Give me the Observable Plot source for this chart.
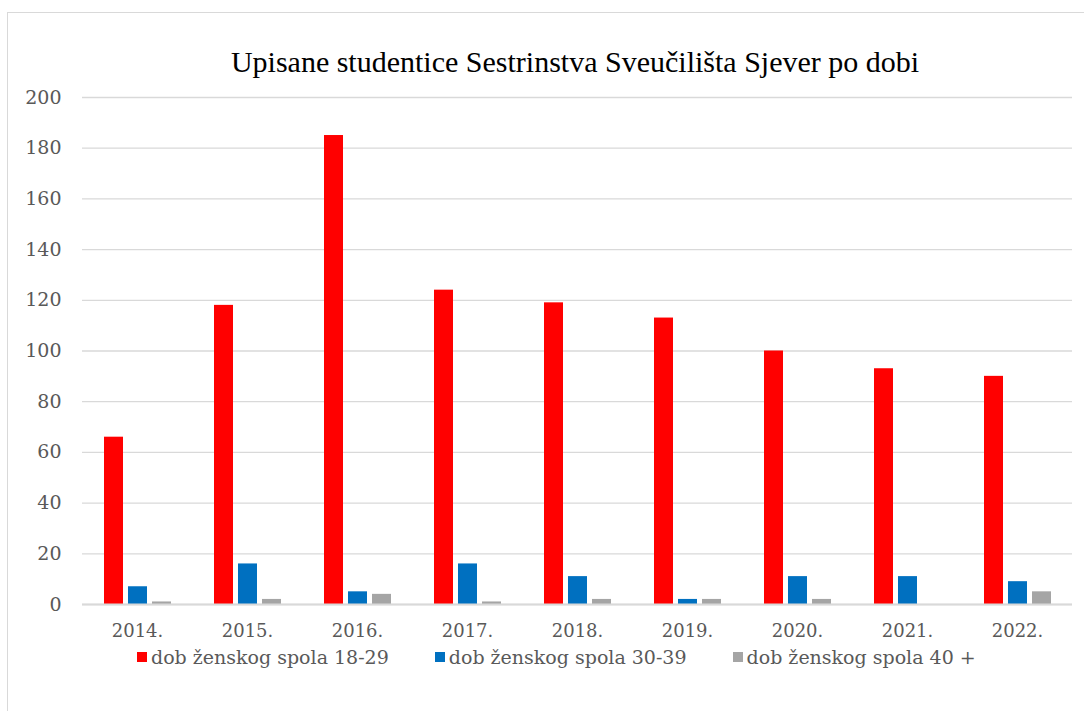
<!DOCTYPE html>
<html>
<head>
<meta charset="utf-8">
<script src="https://cdn.jsdelivr.net/npm/d3@7"></script>
<script src="https://cdn.jsdelivr.net/npm/@observablehq/plot@0.6"></script>
<style>
  body { margin: 0; background: #fff; width: 1084px; height: 711px; overflow: hidden; position: relative; font-family: "DejaVu Serif", serif; }
  #frame { position: absolute; left: 7px; top: 12px; width: 1090px; height: 720px; border: 1px solid #d9d9d9; box-sizing: border-box; }
  #title { position: absolute; left: 80px; width: 990px; top: 45px; text-align: center; font-family: "Liberation Serif", serif; font-size: 30px; line-height: 34px; color: #000; }
  #chart { position: absolute; left: 0; top: 80px; }
  #legend { position: absolute; top: 645px; left: 137px; display: flex; justify-content: flex-start; gap: 46px; font-family: "DejaVu Serif", serif; font-size: 19px; line-height: 24px; color: #595959; }
  .item { display: flex; align-items: center; }
  .sw { width: 10px; height: 10px; margin-right: 4px; }
</style>
</head>
<body>
<div id="frame"></div>
<div id="title">Upisane studentice Sestrinstva Sveučilišta Sjever po dobi</div>
<div id="chart"></div>
<div id="legend"></div>
<script>
const years = ["2014.", "2015.", "2016.", "2017.", "2018.", "2019.", "2020.", "2021.", "2022."];
const seriesNames = ["dob ženskog spola 18-29", "dob ženskog spola 30-39", "dob ženskog spola 40 +"];
const age18_29 = [66, 118, 185, 124, 119, 113, 100, 93, 90];
const age30_39 = [7, 16, 5, 16, 11, 2, 11, 11, 9];
const age40plus = [1, 2, 4, 1, 2, 2, 2, 0, 5];
const colors = ["#ff0000", "#0070c0", "#a5a5a5"];
const yTicks = [0, 20, 40, 60, 80, 100, 120, 140, 160, 180, 200];

const seriesValues = [age18_29, age30_39, age40plus];
const data = [];
years.forEach((yr, i) => {
  seriesNames.forEach((s, j) => data.push({year: yr, series: s, value: seriesValues[j][i]}));
});

const chart = Plot.plot({
  width: 1084,
  height: 571,
  marginLeft: 82,
  marginRight: 12,
  marginTop: 17,
  marginBottom: 47,
  style: {fontFamily: "'DejaVu Serif', serif", fontSize: "18px", color: "#595959", background: "transparent"},
  fx: {domain: years, padding: 0, label: null},
  x: {domain: seriesNames, paddingInner: 0.22, paddingOuter: 0.855, axis: null},
  y: {domain: [0, 200], label: null},
  color: {domain: seriesNames, range: colors},
  marks: [
    Plot.gridY(yTicks, {stroke: "#d9d9d9", strokeOpacity: 1, strokeWidth: 1.3}),
    Plot.barY(data, {fx: "year", x: "series", y: "value", fill: "series"}),
    Plot.ruleY([0], {stroke: "#d9d9d9", strokeWidth: 2}),
    Plot.axisY(yTicks, {tickSize: 0, tickPadding: 21, label: null, fill: "#595959", fontSize: 19}),
    Plot.axisFx({anchor: "bottom", tickSize: 0, tickPadding: 20, label: null, fill: "#595959", fontSize: 18})
  ]
});
document.getElementById("chart").appendChild(chart);

const legend = document.getElementById("legend");
seriesNames.forEach((s, i) => {
  const it = document.createElement("div");
  it.className = "item";
  const sw = document.createElement("span");
  sw.className = "sw";
  sw.style.background = colors[i];
  const t = document.createElement("span");
  t.textContent = s;
  it.appendChild(sw); it.appendChild(t);
  legend.appendChild(it);
});
</script>
</body>
</html>
